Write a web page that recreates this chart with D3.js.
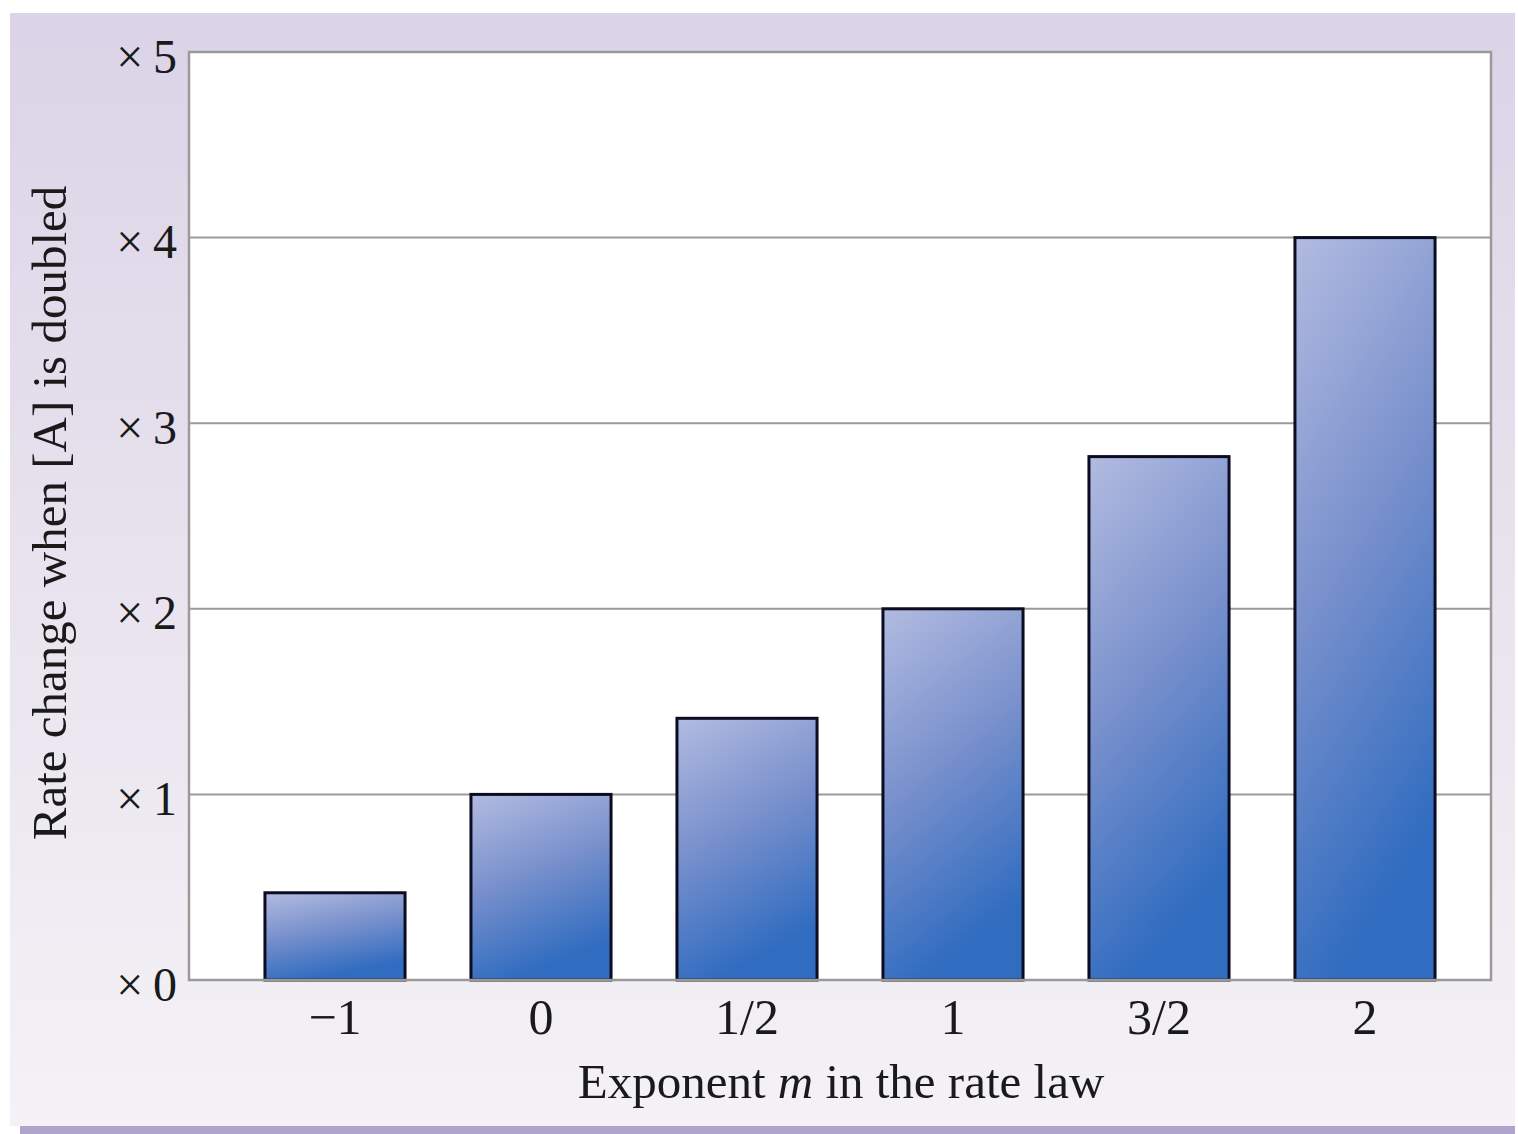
<!DOCTYPE html>
<html>
<head>
<meta charset="utf-8">
<script src="https://cdn.jsdelivr.net/npm/d3@7"></script>
<style>
  body { margin: 0; background: #fff; }
  text { font-family: "Liberation Serif", "DejaVu Serif", serif; fill: #1a1a1a; }
</style>
</head>
<body>
<script>
(function () {

  // Exponent m and the factor the rate changes by when [A] doubles
  let exponents = ['\u22121', '0', '1/2', '1', '3/2', '2'];
  let factors   = [0.47, 1.0, 1.41, 2.0, 2.82, 4.0];
  let yTicks    = [0, 1, 2, 3, 4, 5];

  let totalWidth  = 1518;
  let totalHeight = 1134;

  // Plot frame
  let plot = { left: 189, top: 52, right: 1491, bottom: 980 };

  let svg = d3.select('body').append('svg')
      .attr('width', totalWidth)
      .attr('height', totalHeight);

  let defs = svg.append('defs');

  let panelGrad = defs.append('linearGradient')
      .attr('id', 'panel').attr('x1', 0).attr('y1', 0).attr('x2', 0).attr('y2', 1);
  panelGrad.append('stop').attr('offset', 0).attr('stop-color', '#dbd3e7');
  panelGrad.append('stop').attr('offset', 0.5).attr('stop-color', '#e8e3ee');
  panelGrad.append('stop').attr('offset', 1).attr('stop-color', '#f4f2f6');

  let barGrad = defs.append('linearGradient')
      .attr('id', 'bar').attr('x1', 0).attr('y1', 0).attr('x2', 0.3).attr('y2', 1);
  barGrad.append('stop').attr('offset', 0).attr('stop-color', '#b2bbe0');
  barGrad.append('stop').attr('offset', 0.5).attr('stop-color', '#7890cc');
  barGrad.append('stop').attr('offset', 1).attr('stop-color', '#306cc0');

  // background panel
  svg.append('rect')
    .attr('x', 10).attr('y', 13)
    .attr('width', 1505).attr('height', 1113)
    .attr('fill', 'url(#panel)');
  svg.append('rect')
    .attr('x', 20).attr('y', 1126)
    .attr('width', 1495).attr('height', 8)
    .attr('fill', '#ada5cd');

  let x = d3.scaleBand()
      .domain(exponents)
      .range([232, 1468])
      .paddingInner(0.32)
      .paddingOuter(0.16);

  let y = d3.scaleLinear()
      .domain([0, 5])
      .range([plot.bottom, plot.top]);

  // plot area
  svg.append('rect')
    .attr('x', plot.left).attr('y', plot.top)
    .attr('width', plot.right - plot.left).attr('height', plot.bottom - plot.top)
    .attr('fill', '#fff');

  // grid lines
  svg.append('g').selectAll('line').data(yTicks.slice(1, -1)).enter()
    .append('line')
    .attr('x1', plot.left).attr('x2', plot.right)
    .attr('y1', d => y(d)).attr('y2', d => y(d))
    .attr('stroke', '#9a9a9a').attr('stroke-width', 2);

  // bars
  svg.append('g').selectAll('rect').data(factors).enter()
    .append('rect')
    .attr('x', (d, i) => x(exponents[i]))
    .attr('y', d => y(d))
    .attr('width', x.bandwidth())
    .attr('height', d => y(0) - y(d))
    .attr('fill', 'url(#bar)')
    .attr('stroke', '#0b0b22')
    .attr('stroke-width', 3);

  // frame
  svg.append('rect')
    .attr('x', plot.left).attr('y', plot.top)
    .attr('width', plot.right - plot.left).attr('height', plot.bottom - plot.top)
    .attr('fill', 'none')
    .attr('stroke', '#9a9a9a').attr('stroke-width', 2.5);

  // y axis
  let yAxis = d3.axisLeft(y)
      .tickValues(yTicks)
      .tickSize(0)
      .tickPadding(12)
      .tickFormat(d => '\u00d7' + '\u2009' + d);

  let yg = svg.append('g')
      .attr('transform', 'translate(' + plot.left + ',0)')
      .call(yAxis);
  yg.select('.domain').remove();
  yg.selectAll('text')
    .attr('font-size', 48)
    .attr('font-family', '"Liberation Serif", serif')
    .attr('fill', '#333')
    .attr('dy', '0.42em');

  // x axis
  let xAxis = d3.axisBottom(x).tickSize(0).tickPadding(18);
  let xg = svg.append('g')
      .attr('transform', 'translate(0,' + plot.bottom + ')')
      .call(xAxis);
  xg.select('.domain').remove();
  xg.selectAll('text')
    .attr('font-size', 50)
    .attr('font-family', '"Liberation Serif", serif')
    .attr('fill', '#1a1a1a');

  // axis titles
  let xt = svg.append('text')
    .attr('x', 841).attr('y', 1098)
    .attr('text-anchor', 'middle')
    .attr('font-size', 49)
    .attr('fill', '#1a1a1a');
  xt.append('tspan').text('Exponent ');
  xt.append('tspan').attr('font-style', 'italic').text('m');
  xt.append('tspan').text(' in the rate law');

  svg.append('text')
    .attr('transform', 'translate(66,513) rotate(-90)')
    .attr('text-anchor', 'middle')
    .attr('font-size', 49)
    .attr('fill', '#1a1a1a')
    .text('Rate change when [A] is doubled');

})();
</script>
</body>
</html>
